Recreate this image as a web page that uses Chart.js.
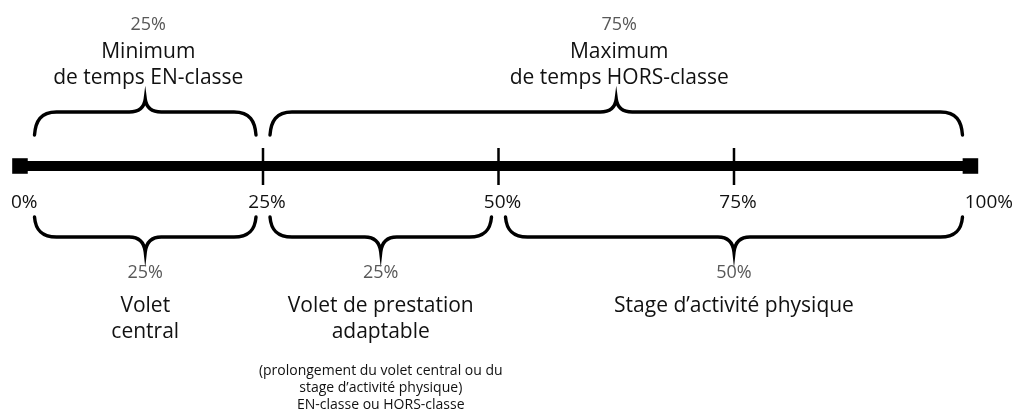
<!DOCTYPE html>
<html>
<head>
<meta charset="utf-8">
<script src="https://cdn.jsdelivr.net/npm/chart.js@4.4.1/dist/chart.umd.min.js"></script>
<style>
  html, body { margin: 0; padding: 0; background: #fff; }
</style>
</head>
<body>
<canvas id="chart" width="1018" height="415"></canvas>
<script>
// share of the time, in %
const tickValues = [0, 25, 50, 75, 100];
const tickLabels = ['0%', '25%', '50%', '75%', '100%'];
const trackEnds = [-0.8, 100.1];

// braces above the line
const topFrom = [0, 25];
const topTo = [25, 100];
const topShare = ['25%', '75%'];
const topText = [['Minimum', 'de temps EN-classe'], ['Maximum', 'de temps HORS-classe']];

// braces below the line
const bottomFrom = [0, 25, 50];
const bottomTo = [25, 50, 100];
const bottomShare = ['25%', '25%', '50%'];
const bottomText = [['Volet', 'central'], ['Volet de prestation', 'adaptable'], ['Stage d’activité physique']];
const bottomNote = [[], ['(prolongement du volet central ou du', 'stage d’activité physique)', 'EN-classe ou HORS-classe'], []];

const FONT = '"Open Sans", "DejaVu Sans", sans-serif';
const LINE_Y = 166;

function brace(ctx, x1, x2, yEnd, yH, yTip) {
  const xm = (x1 + x2) / 2;
  const c = 22;
  ctx.beginPath();
  ctx.moveTo(x1, yEnd);
  ctx.bezierCurveTo(x1 + 1, yEnd + (yH - yEnd) * 0.6, x1 + 6, yH, x1 + c, yH);
  ctx.lineTo(xm - 16, yH);
  ctx.bezierCurveTo(xm - 6, yH, xm - 1, yH + (yTip - yH) * 0.4, xm, yTip);
  ctx.bezierCurveTo(xm + 1, yH + (yTip - yH) * 0.4, xm + 6, yH, xm + 16, yH);
  ctx.lineTo(x2 - c, yH);
  ctx.bezierCurveTo(x2 - 6, yH, x2 - 1, yEnd + (yH - yEnd) * 0.6, x2, yEnd);
  ctx.stroke();
}

const bracesPlugin = {
  id: 'braces',
  afterDatasetsDraw(chart) {
    const ctx = chart.ctx;
    const x = chart.scales.x;
    ctx.save();
    ctx.strokeStyle = '#000';
    ctx.lineWidth = 3.4;
    ctx.lineCap = 'round';
    ctx.textAlign = 'center';
    ctx.textBaseline = 'alphabetic';

    // tick labels under the line
    ctx.font = '19px ' + FONT;
    ctx.fillStyle = '#111';
    tickValues.forEach((v, i) => {
      let px = x.getPixelForValue(v) + 4;
      if (i === 0) { ctx.textAlign = 'left'; px = x.getPixelForValue(trackEnds[0]) - 9; }
      else if (i === tickValues.length - 1) { ctx.textAlign = 'right'; px = chart.width - 5; }
      else ctx.textAlign = 'center';
      ctx.fillText(tickLabels[i], px, 208);
    });
    ctx.textAlign = 'center';

    topFrom.forEach((f, i) => {
      const x1 = x.getPixelForValue(f) + 7;
      const x2 = x.getPixelForValue(topTo[i]) - 7;
      const xm = (x1 + x2) / 2;
      brace(ctx, x1, x2, 135, 112, 99);
      ctx.font = '18px ' + FONT;
      ctx.fillStyle = '#585858';
      ctx.fillText(topShare[i], xm + 3, 30);
      ctx.font = '21px ' + FONT;
      ctx.fillStyle = '#111';
      topText[i].forEach((t, k) => ctx.fillText(t, xm + 3, 58 + k * 26));
    });

    bottomFrom.forEach((f, i) => {
      const x1 = x.getPixelForValue(f) + 7;
      const x2 = x.getPixelForValue(bottomTo[i]) - 7;
      const xm = (x1 + x2) / 2;
      brace(ctx, x1, x2, 217, 237, 252);
      ctx.font = '18px ' + FONT;
      ctx.fillStyle = '#585858';
      ctx.fillText(bottomShare[i], xm, 278);
      ctx.font = '21px ' + FONT;
      ctx.fillStyle = '#111';
      bottomText[i].forEach((t, k) => ctx.fillText(t, xm, 312 + k * 26));
      ctx.font = '14px ' + FONT;
      bottomNote[i].forEach((t, k) => ctx.fillText(t, xm, 375 + k * 17));
    });
    ctx.restore();
  }
};

const datasets = [{
  label: 'track',
  data: trackEnds.map(v => ({ x: v, y: LINE_Y })),
  showLine: true,
  borderColor: '#000',
  borderWidth: 10,
  pointStyle: 'rect',
  pointRadius: 11,
  pointBackgroundColor: '#000',
  pointBorderWidth: 0
}];
tickValues.filter(v => v > 0 && v < 100).forEach(v => {
  datasets.push({
    label: 'tick ' + v,
    data: [{ x: v, y: 148 }, { x: v, y: 185 }],
    showLine: true,
    borderColor: '#000',
    borderWidth: 2.5,
    pointRadius: 0
  });
});

new Chart(document.getElementById('chart').getContext('2d'), {
  type: 'scatter',
  data: { datasets },
  options: {
    responsive: false,
    devicePixelRatio: 1,
    animation: false,
    layout: { padding: 0, autoPadding: false },
    plugins: { legend: { display: false }, tooltip: { enabled: false } },
    scales: {
      x: { type: 'linear', min: -2.92, max: 105.15, display: false },
      y: { type: 'linear', min: 0, max: 415, reverse: true, display: false }
    }
  },
  plugins: [bracesPlugin]
});
</script>
</body>
</html>
